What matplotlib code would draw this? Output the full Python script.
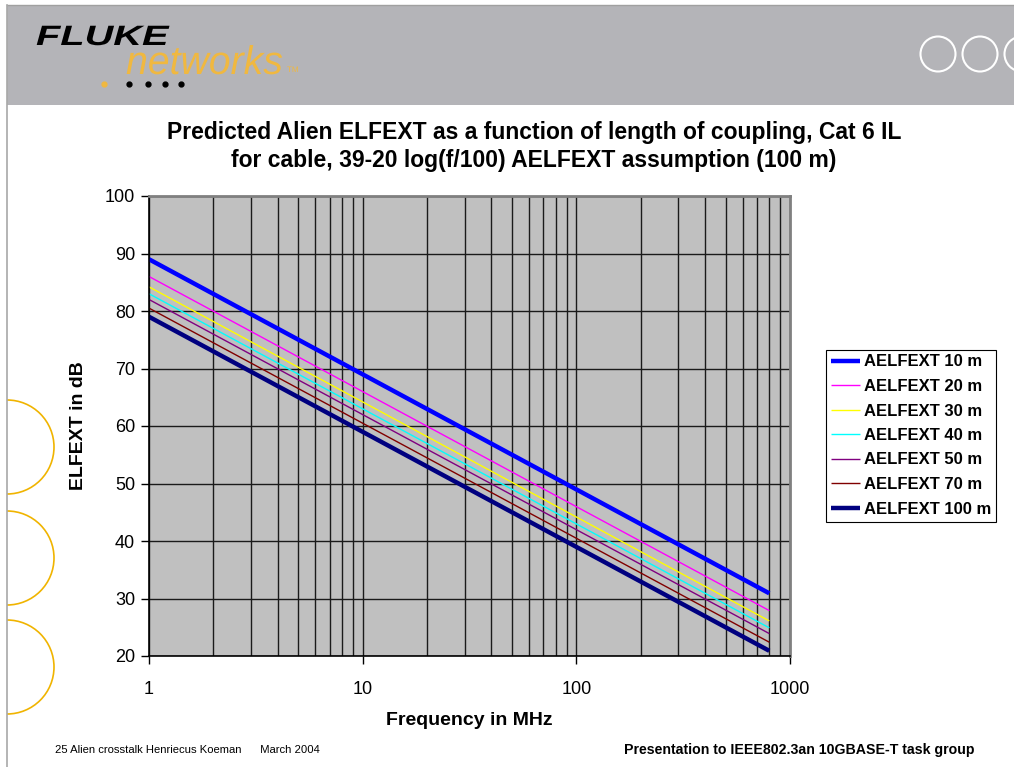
import numpy as np
import matplotlib
matplotlib.use('Agg')
import matplotlib.pyplot as plt
import matplotlib.transforms as mtransforms
from matplotlib.patches import Rectangle, Circle, Arc, PathPatch
from matplotlib.textpath import TextPath
from matplotlib.font_manager import FontProperties
from matplotlib.ticker import FixedLocator, NullFormatter

plt.rcParams['font.family'] = ['Liberation Sans', 'DejaVu Sans']

# endpoints of each coupling-length line (1 MHz and 800 MHz)
freq = [1, 800]
labels = ['AELFEXT 10 m', 'AELFEXT 20 m', 'AELFEXT 30 m', 'AELFEXT 40 m',
          'AELFEXT 50 m', 'AELFEXT 70 m', 'AELFEXT 100 m']
elfext_1mhz = [89.0, 86.0, 84.2, 83.0, 82.0, 80.5, 79.0]
elfext_800mhz = [30.9, 27.9, 26.1, 24.9, 23.9, 22.4, 20.9]
colors = ['#0000FF', '#FF00FF', '#FFFF00', '#00FFFF', '#800080', '#800000', '#000080']
widths = [3.2, 1.0, 1.0, 1.0, 1.0, 1.0, 3.2]

W, H = 1014, 767
fig = plt.figure(figsize=(W / 100, H / 100), dpi=100)

# slide background in pixel coordinates
bg = fig.add_axes([0, 0, 1, 1])
bg.set_xlim(0, W)
bg.set_ylim(H, 0)
bg.axis('off')


def word(s, x, y, size, sx, color, prop):
    """draw a word as a path so it can be stretched sideways"""
    tp = TextPath((0, 0), s, size=size, prop=prop)
    tr = mtransforms.Affine2D().scale(sx, -1).translate(x, y)
    bg.add_patch(PathPatch(tr.transform_path(tp), facecolor=color, edgecolor='none'))


bg.add_patch(Rectangle((7, 5), W - 7, 100, facecolor='#b4b4b8', edgecolor='none'))
bg.plot([7, W], [5, 5], color='#a0a0a0', lw=1)
bg.plot([7, 7], [5, H], color='#a8a8a8', lw=1.2)

# header circles
for cx in [938, 980, 1022]:
    bg.add_patch(Circle((cx, 54), 17.5, facecolor='none', edgecolor='white', lw=1.5))

# side half circles
for cy in [447, 558, 667]:
    bg.add_patch(Arc((7, cy), 94, 94, theta1=-90, theta2=90, color='#f0b400', lw=1.2))

# logo
word('FLUKE', 36, 45, 28, 1.42, 'black',
     FontProperties(family='Liberation Sans', weight='bold', style='italic'))
word('networks', 126, 74, 40, 0.98, '#f0b840',
     FontProperties(family='Liberation Sans', style='italic'))
word('TM', 287, 72, 8, 1.0, '#f0b840', FontProperties(family='Liberation Sans'))
bg.plot([104], [84], 'o', color='#f0b840', ms=3.5)
bg.plot([129, 148, 165, 181], [84] * 4, 'o', color='black', ms=3.5, ls='none')

# title
bg.text(534, 133, 'Predicted Alien ELFEXT as a function of length of coupling, Cat 6 IL',
        fontsize=16.5, fontweight='bold', ha='center', va='center')
bg.text(534, 161, 'for cable, 39-20 log(f/100) AELFEXT assumption (100 m)',
        fontsize=16.5, fontweight='bold', ha='center', va='center')

# footer
bg.text(55, 750, '25 Alien crosstalk Henriecus Koeman      March 2004',
        fontsize=8.1, ha='left', va='center')
bg.text(975, 750, 'Presentation to IEEE802.3an 10GBASE-T task group',
        fontsize=10.2, fontweight='bold', ha='right', va='center')

# chart area
x0, x1, y0, y1 = 149, 790, 196, 656
ax = fig.add_axes([x0 / W, (H - y1) / H, (x1 - x0) / W, (y1 - y0) / H])
ax.set_facecolor('#c0c0c0')
ax.set_xscale('log')
ax.set_xlim(1, 1000)
ax.set_ylim(20, 100)

ax.xaxis.set_major_locator(FixedLocator([1, 10, 100, 1000]))
ax.xaxis.set_minor_locator(FixedLocator(
    [m * 10 ** d for d in range(3) for m in range(2, 10)]))
ax.xaxis.set_minor_formatter(NullFormatter())
ax.set_xticklabels(['1', '10', '100', '1000'])
ax.set_yticks(np.arange(20, 101, 10))

ax.grid(True, which='both', axis='x', color='#1a1a1a', lw=1.0)
ax.grid(True, which='major', axis='y', color='#1a1a1a', lw=1.0)
ax.set_axisbelow(True)

for spine in ['left', 'bottom']:
    ax.spines[spine].set_color('black')
    ax.spines[spine].set_linewidth(1.2)
for spine in ['top', 'right']:
    ax.spines[spine].set_color('#808080')
    ax.spines[spine].set_linewidth(2)

ax.tick_params(axis='both', which='major', direction='out', length=6,
               width=1, labelsize=13)
ax.tick_params(axis='y', which='major', pad=4)
ax.tick_params(axis='x', which='major', pad=12)
ax.tick_params(axis='x', which='minor', length=0)

for lab, a, b, c, w in zip(labels, elfext_1mhz, elfext_800mhz, colors, widths):
    ax.plot(freq, [a, b], color=c, lw=w, label=lab, solid_capstyle='butt')

ax.set_xlabel('Frequency in MHz', fontsize=14, fontweight='bold', labelpad=10)
ax.set_ylabel('ELFEXT in dB', fontsize=14, fontweight='bold', labelpad=13)

leg = ax.legend(loc='center left', bbox_to_anchor=((826 - x0) / (x1 - x0), (y1 - 435.5) / (y1 - y0)),
                frameon=True, fancybox=False, edgecolor='black', framealpha=1,
                prop={'weight': 'bold', 'size': 12}, handlelength=1.75,
                handletextpad=0.22, labelspacing=0.57, borderpad=0.3, borderaxespad=0)
leg.get_frame().set_linewidth(0.8)

fig.savefig('out.png', dpi=100)
plt.close(fig)
